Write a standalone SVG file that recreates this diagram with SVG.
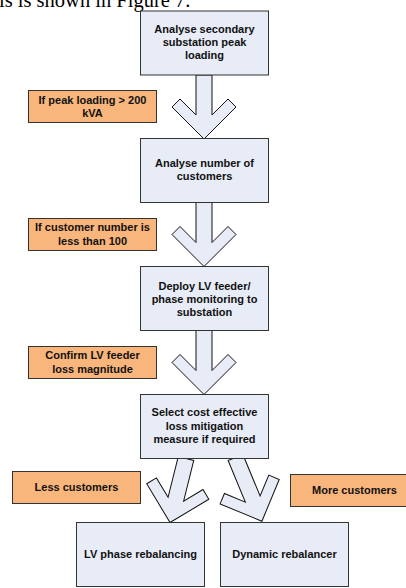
<svg xmlns="http://www.w3.org/2000/svg" width="406" height="588" viewBox="0 0 406 588">
<style>
.box{fill:#E7ECF7;stroke:#333;stroke-width:1}
.lbl{fill:#F8B57C;stroke:#333;stroke-width:1}
.arr{fill:#E7ECF7;stroke:#111;stroke-width:1;stroke-linejoin:miter}
text{font-family:"Liberation Sans",Arial,sans-serif;font-weight:bold;font-size:11px;fill:#111;text-anchor:middle}
.body{font-family:"Liberation Serif","Times New Roman",serif;font-weight:normal;font-size:20.5px;text-anchor:start;fill:#000}
</style>
<defs>
<path id="down" d="M-8,0 V40 L-24,24 L-32,32 L0,64 L32,32 L24,24 L8,40 V0 Z"/>
</defs>
<rect width="406" height="588" fill="#fff"/>
<text class="body" x="-1" y="7">is is shown in Figure 7.</text>
<g id="connectors">
<use href="#down" class="arr" transform="translate(204,75)"/>
<use href="#down" class="arr" transform="translate(204,202.5)"/>
<use href="#down" class="arr" transform="translate(204,330.5)"/>
<path class="arr" transform="translate(186,458.5) rotate(14)" d="M-8,0 V42 L-24,26 L-32,34 L0,66 L32,34 L24,26 L8,42 V0 Z"/>
<path class="arr" transform="translate(235.5,457.5) rotate(-22.5)" d="M-8,0 V45 L-24,29 L-32,37 L0,69 L32,37 L24,29 L8,45 V0 Z"/>
</g>
<g id="n1"><rect class="box" x="140.5" y="11" width="128" height="64"/>
<text x="204.5" y="32.5">Analyse secondary</text><text x="204.5" y="45.8">substation peak</text><text x="204.5" y="59.1">loading</text></g>
<g id="n2"><rect class="box" x="140.5" y="138.5" width="128" height="64"/>
<text x="204.5" y="166.8">Analyse number of</text><text x="204.5" y="180.2">customers</text></g>
<g id="n3"><rect class="box" x="140.5" y="266.5" width="128" height="64"/>
<text x="204.5" y="289.5">Deploy LV feeder/</text><text x="204.5" y="302.9">phase monitoring to</text><text x="204.5" y="316.3">substation</text></g>
<g id="n4"><rect class="box" x="140.5" y="394.5" width="128" height="64"/>
<text x="204.5" y="416.2">Select cost effective</text><text x="204.5" y="429.5">loss mitigation</text><text x="204.5" y="442.8">measure if required</text></g>
<g id="n5"><rect class="box" x="76.5" y="522.5" width="128" height="64"/>
<text x="140.5" y="557.5">LV phase rebalancing</text></g>
<g id="n6"><rect class="box" x="220.5" y="522.5" width="128" height="64"/>
<text x="284.5" y="557.5">Dynamic rebalancer</text></g>
<g id="l1"><rect class="lbl" x="28.5" y="90.5" width="128" height="32"/>
<text x="92.5" y="103.5">If peak loading &gt; 200</text><text x="92.5" y="117">kVA</text></g>
<g id="l2"><rect class="lbl" x="28.5" y="218.5" width="128" height="32"/>
<text x="92.5" y="231">If customer number is</text><text x="92.5" y="244.5">less than 100</text></g>
<g id="l3"><rect class="lbl" x="28.5" y="346.5" width="128" height="32"/>
<text x="92.5" y="359">Confirm LV feeder</text><text x="92.5" y="372.5">loss magnitude</text></g>
<g id="l4"><rect class="lbl" x="12.5" y="471.5" width="128" height="32"/>
<text x="76.5" y="490.7">Less customers</text></g>
<g id="l5"><rect class="lbl" x="290.5" y="474.5" width="128" height="32"/>
<text x="354.5" y="494">More customers</text></g>
</svg>
